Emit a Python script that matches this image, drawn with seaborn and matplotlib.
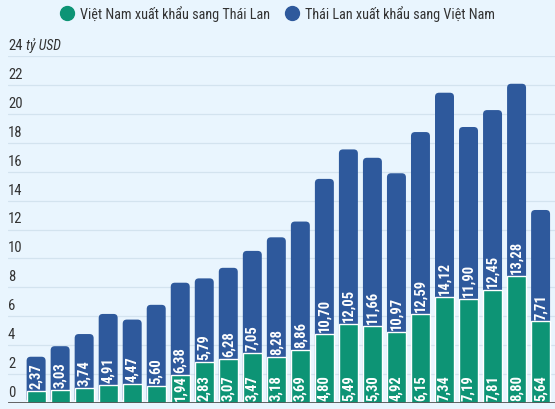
import numpy as np
import pandas as pd
import matplotlib
matplotlib.use('Agg')
import matplotlib.pyplot as plt
import seaborn as sns
from matplotlib.patches import FancyBboxPatch
from matplotlib.lines import Line2D
from matplotlib import font_manager

# Dữ liệu (tỷ USD)
years = [str(y) for y in range(2001, 2023)]
vn_to_th = [0.83, 0.90, 1.03, 1.25, 1.30, 1.19, 1.94, 2.83, 3.07, 3.47, 3.18,
            3.69, 4.80, 5.49, 5.30, 4.92, 6.15, 7.34, 7.19, 7.81, 8.80, 5.64]
th_to_vn = [2.37, 3.03, 3.74, 4.91, 4.47, 5.60, 6.38, 5.79, 6.28, 7.05, 8.28,
            8.86, 10.70, 12.05, 11.66, 10.97, 12.59, 14.12, 11.90, 12.45, 13.28, 7.71]
yticks = [0, 2, 4, 6, 8, 10, 12, 14, 16, 18, 20, 22]

green = '#0d9475'
blue = '#2e599c'
bg = '#e9f5fe'

# chọn font hẹp nếu có
installed = {f.name for f in font_manager.fontManager.ttflist}
narrow = 'Roboto'
for cand in ['Roboto Condensed', 'Liberation Sans Narrow', 'Archivo Narrow',
             'PT Sans Narrow', 'Barlow Condensed', 'Fira Sans Condensed',
             'Open Sans Condensed', 'Asap Condensed', 'Encode Sans Condensed']:
    if cand in installed:
        narrow = cand
        break

df = pd.DataFrame({'year': years, 'vn': vn_to_th, 'th': th_to_vn})
df['total'] = df['vn'] + df['th']

sns.set_style('white')
plt.rcParams['font.family'] = [narrow, 'Roboto', 'DejaVu Sans']

fig = plt.figure(figsize=(5.55, 4.10), dpi=100, facecolor=bg)
ax = fig.add_axes([8 / 555, 6 / 410, 547 / 555, 347 / 410])
ax.set_facecolor(bg)

# cột xanh dương = tổng, cột xanh lá vẽ đè lên
sns.barplot(data=df, x='year', y='total', color=blue, width=0.79,
            saturation=1, ax=ax)
sns.barplot(data=df, x='year', y='vn', color=green, width=0.79,
            saturation=1, ax=ax)

ax.set_xlim(-1.17, 21.6)
ax.set_ylim(0, 24)

# bo tròn đầu cột xanh dương
n = len(years)
aspect = (24 / 347) / (22.77 / 547)
for p in list(ax.patches[:n]):
    x, y = p.get_x(), p.get_y()
    w, h = p.get_width(), p.get_height()
    p.remove()
    ax.add_patch(FancyBboxPatch((x, y), w, h,
                                boxstyle='round,pad=0,rounding_size=0.17',
                                mutation_aspect=aspect, fc=blue, ec='none',
                                zorder=1))
for p in ax.containers[-1]:
    p.set_zorder(2)

# nhãn số liệu
fmt = lambda v: f'{v:.2f}'.replace('.', ',')
lab_kw = dict(rotation=90, ha='center', va='bottom', color='white',
              fontsize=10.5, fontweight='bold', family=narrow, zorder=5)
for i in range(n):
    if vn_to_th[i] >= 1.9:
        ax.text(i, 0.2, fmt(vn_to_th[i]), **lab_kw)
    ax.text(i, vn_to_th[i] + 0.2, fmt(th_to_vn[i]), **lab_kw)

# lưới và nhãn trục tung
for t in yticks + [24]:
    ax.axhline(t, color='#d3e3ef', lw=0.9, zorder=0)
for t in yticks:
    ax.text(0, t + 0.28, str(t), transform=ax.get_yaxis_transform(),
            ha='left', va='bottom', fontsize=10.5, color='#333333')
ax.text(0, 24 + 0.28, '24', transform=ax.get_yaxis_transform(), ha='left',
        va='bottom', fontsize=10.5, color='#333333', clip_on=False)
ax.text(0.032, 24 + 0.28, 'tỷ USD', transform=ax.get_yaxis_transform(),
        ha='left', va='bottom', fontsize=10, color='#333333', style='italic',
        clip_on=False)
ax.axhline(0, color='#555555', lw=2, zorder=6)

ax.set_xticks([])
ax.set_yticks([])
ax.set_xlabel('')
ax.set_ylabel('')
for s in ax.spines.values():
    s.set_visible(False)

handles = [Line2D([], [], marker='o', ls='', ms=10, color=green,
                  label='Việt Nam xuất khẩu sang Thái Lan'),
           Line2D([], [], marker='o', ls='', ms=10, color=blue,
                  label='Thái Lan xuất khẩu sang Việt Nam')]
fig.legend(handles=handles, loc='center', bbox_to_anchor=(0.5, 1 - 14 / 410),
           ncol=2, frameon=False, handletextpad=0.4, columnspacing=1.0,
           handlelength=1.0, prop={'size': 10.3}, labelcolor='#333333')

fig.savefig('out.png', dpi=100, facecolor=bg)
